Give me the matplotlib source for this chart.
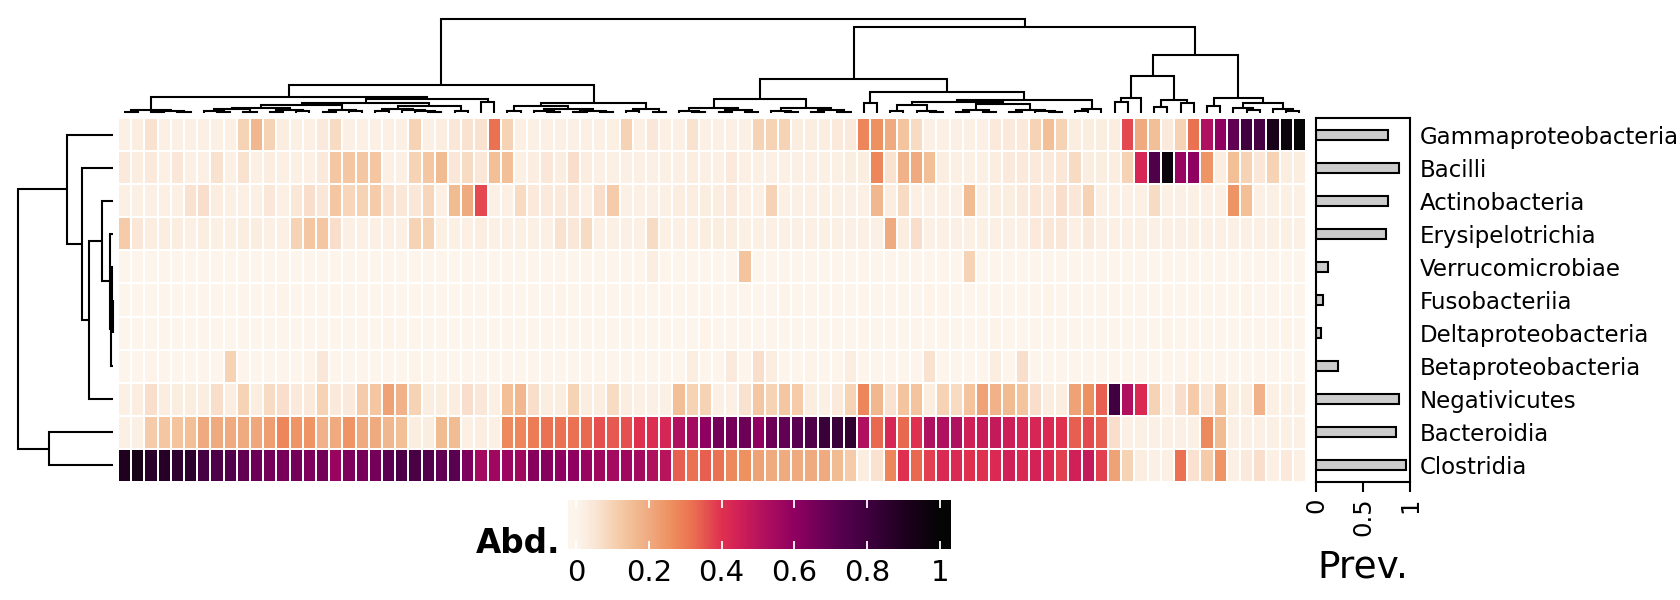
import numpy as np
import matplotlib
matplotlib.use("Agg")
import matplotlib.pyplot as plt
from matplotlib.colors import LinearSegmentedColormap

# ---------------- data ----------------
classes = ["Gammaproteobacteria", "Bacilli", "Actinobacteria", "Erysipelotrichia",
           "Verrucomicrobiae", "Fusobacteriia", "Deltaproteobacteria",
           "Betaproteobacteria", "Negativicutes", "Bacteroidia", "Clostridia"]

gammaproteobacteria = [
    0.02, 0.03, 0.06, 0.02, 0.02, 0.02, 0.02, 0.02, 0.02, 0.10,
    0.17, 0.10, 0.03, 0.02, 0.02, 0.04, 0.08, 0.02, 0.02, 0.02,
    0.02, 0.02, 0.10, 0.02, 0.03, 0.05, 0.06, 0.06, 0.32, 0.10,
    0.02, 0.02, 0.02, 0.02, 0.02, 0.02, 0.02, 0.02, 0.10, 0.02,
    0.05, 0.02, 0.02, 0.06, 0.02, 0.02, 0.02, 0.02, 0.10, 0.10,
    0.10, 0.03, 0.03, 0.03, 0.04, 0.04, 0.28, 0.26, 0.20, 0.14,
    0.08, 0.02, 0.02, 0.02, 0.02, 0.02, 0.04, 0.04, 0.04, 0.10,
    0.15, 0.10, 0.03, 0.03, 0.03, 0.03, 0.37, 0.20, 0.15, 0.04,
    0.10, 0.32, 0.52, 0.60, 0.70, 0.80, 0.78, 0.92, 0.97, 1.00]
bacilli = [
    0.04, 0.03, 0.04, 0.02, 0.05, 0.02, 0.02, 0.06, 0.02, 0.06,
    0.02, 0.03, 0.02, 0.02, 0.02, 0.04, 0.13, 0.13, 0.13, 0.13,
    0.02, 0.02, 0.10, 0.13, 0.16, 0.05, 0.08, 0.05, 0.15, 0.15,
    0.02, 0.03, 0.05, 0.03, 0.07, 0.03, 0.02, 0.02, 0.02, 0.02,
    0.02, 0.02, 0.02, 0.03, 0.02, 0.02, 0.04, 0.02, 0.02, 0.02,
    0.02, 0.02, 0.02, 0.02, 0.02, 0.03, 0.03, 0.28, 0.06, 0.18,
    0.20, 0.15, 0.03, 0.02, 0.02, 0.02, 0.03, 0.04, 0.04, 0.04,
    0.04, 0.05, 0.08, 0.03, 0.03, 0.03, 0.10, 0.43, 0.75, 0.97,
    0.58, 0.60, 0.25, 0.03, 0.15, 0.10, 0.05, 0.10, 0.03, 0.03]
actinobacteria = [
    0.02, 0.02, 0.02, 0.02, 0.02, 0.06, 0.07, 0.03, 0.02, 0.02,
    0.02, 0.05, 0.02, 0.05, 0.07, 0.05, 0.13, 0.09, 0.10, 0.12,
    0.06, 0.05, 0.05, 0.09, 0.02, 0.16, 0.20, 0.37, 0.02, 0.02,
    0.08, 0.04, 0.04, 0.04, 0.05, 0.02, 0.07, 0.12, 0.02, 0.02,
    0.02, 0.02, 0.03, 0.03, 0.03, 0.03, 0.04, 0.02, 0.02, 0.10,
    0.02, 0.02, 0.02, 0.02, 0.02, 0.02, 0.02, 0.17, 0.03, 0.08,
    0.02, 0.02, 0.02, 0.02, 0.16, 0.02, 0.03, 0.03, 0.04, 0.05,
    0.04, 0.07, 0.05, 0.10, 0.02, 0.02, 0.02, 0.02, 0.08, 0.02,
    0.02, 0.02, 0.02, 0.02, 0.25, 0.15, 0.02, 0.02, 0.02, 0.02]
erysipelotrichia = [
    0.12, 0.05, 0.03, 0.03, 0.03, 0.02, 0.03, 0.02, 0.02, 0.03,
    0.03, 0.02, 0.02, 0.10, 0.13, 0.13, 0.07, 0.02, 0.02, 0.02,
    0.02, 0.02, 0.10, 0.10, 0.02, 0.02, 0.02, 0.03, 0.02, 0.02,
    0.02, 0.02, 0.02, 0.06, 0.05, 0.08, 0.02, 0.02, 0.02, 0.02,
    0.08, 0.02, 0.02, 0.02, 0.03, 0.03, 0.03, 0.02, 0.02, 0.02,
    0.02, 0.02, 0.02, 0.02, 0.02, 0.02, 0.02, 0.02, 0.20, 0.03,
    0.07, 0.02, 0.02, 0.02, 0.02, 0.02, 0.02, 0.02, 0.02, 0.04,
    0.05, 0.05, 0.02, 0.04, 0.02, 0.02, 0.02, 0.02, 0.02, 0.02,
    0.02, 0.02, 0.02, 0.02, 0.02, 0.02, 0.02, 0.02, 0.02, 0.02]
verrucomicrobiae = [
    0.00, 0.00, 0.00, 0.00, 0.00, 0.00, 0.00, 0.00, 0.00, 0.00,
    0.00, 0.00, 0.00, 0.00, 0.00, 0.00, 0.00, 0.00, 0.00, 0.00,
    0.00, 0.00, 0.00, 0.00, 0.00, 0.00, 0.00, 0.00, 0.00, 0.00,
    0.00, 0.00, 0.00, 0.00, 0.00, 0.00, 0.00, 0.00, 0.00, 0.00,
    0.03, 0.00, 0.00, 0.00, 0.00, 0.00, 0.00, 0.14, 0.00, 0.00,
    0.00, 0.00, 0.00, 0.00, 0.00, 0.00, 0.00, 0.00, 0.00, 0.00,
    0.00, 0.00, 0.00, 0.00, 0.10, 0.00, 0.00, 0.00, 0.00, 0.00,
    0.00, 0.00, 0.00, 0.00, 0.00, 0.00, 0.00, 0.00, 0.00, 0.00,
    0.00, 0.00, 0.00, 0.00, 0.00, 0.00, 0.00, 0.00, 0.00, 0.00]
fusobacteriia = [
    0.00, 0.00, 0.00, 0.00, 0.00, 0.00, 0.00, 0.00, 0.00, 0.00,
    0.00, 0.00, 0.01, 0.00, 0.00, 0.00, 0.00, 0.00, 0.00, 0.00,
    0.00, 0.00, 0.00, 0.00, 0.00, 0.00, 0.00, 0.00, 0.00, 0.00,
    0.00, 0.00, 0.00, 0.01, 0.00, 0.00, 0.00, 0.00, 0.00, 0.00,
    0.00, 0.00, 0.00, 0.00, 0.00, 0.00, 0.00, 0.00, 0.00, 0.00,
    0.01, 0.00, 0.00, 0.00, 0.00, 0.00, 0.00, 0.00, 0.00, 0.00,
    0.00, 0.01, 0.00, 0.00, 0.00, 0.00, 0.00, 0.00, 0.00, 0.00,
    0.01, 0.00, 0.00, 0.00, 0.00, 0.00, 0.00, 0.00, 0.00, 0.00,
    0.00, 0.00, 0.00, 0.00, 0.00, 0.01, 0.00, 0.00, 0.00, 0.00]
deltaproteobacteria = [
    0.00, 0.00, 0.00, 0.00, 0.00, 0.00, 0.00, 0.00, 0.00, 0.00,
    0.00, 0.00, 0.00, 0.00, 0.00, 0.00, 0.00, 0.00, 0.00, 0.00,
    0.01, 0.00, 0.00, 0.00, 0.00, 0.00, 0.00, 0.00, 0.00, 0.00,
    0.00, 0.00, 0.00, 0.00, 0.00, 0.00, 0.00, 0.00, 0.00, 0.00,
    0.00, 0.00, 0.00, 0.00, 0.01, 0.00, 0.00, 0.00, 0.00, 0.00,
    0.00, 0.00, 0.00, 0.00, 0.00, 0.00, 0.00, 0.00, 0.00, 0.00,
    0.00, 0.00, 0.00, 0.00, 0.00, 0.00, 0.01, 0.00, 0.00, 0.00,
    0.00, 0.00, 0.00, 0.00, 0.00, 0.00, 0.00, 0.00, 0.00, 0.01,
    0.00, 0.00, 0.00, 0.00, 0.00, 0.00, 0.00, 0.00, 0.01, 0.00]
betaproteobacteria = [
    0.00, 0.00, 0.01, 0.00, 0.00, 0.00, 0.00, 0.00, 0.10, 0.00,
    0.00, 0.00, 0.00, 0.00, 0.01, 0.05, 0.00, 0.00, 0.00, 0.00,
    0.00, 0.00, 0.01, 0.00, 0.00, 0.00, 0.00, 0.00, 0.00, 0.00,
    0.00, 0.00, 0.00, 0.00, 0.00, 0.00, 0.00, 0.00, 0.00, 0.00,
    0.00, 0.00, 0.00, 0.03, 0.00, 0.00, 0.04, 0.00, 0.07, 0.03,
    0.00, 0.00, 0.01, 0.00, 0.00, 0.03, 0.00, 0.00, 0.00, 0.00,
    0.00, 0.06, 0.00, 0.00, 0.00, 0.00, 0.03, 0.00, 0.07, 0.00,
    0.00, 0.00, 0.00, 0.00, 0.00, 0.00, 0.00, 0.00, 0.00, 0.00,
    0.00, 0.01, 0.00, 0.00, 0.00, 0.00, 0.00, 0.00, 0.00, 0.00]
negativicutes = [
    0.02, 0.03, 0.07, 0.03, 0.03, 0.03, 0.03, 0.07, 0.03, 0.10,
    0.03, 0.08, 0.07, 0.04, 0.04, 0.10, 0.04, 0.04, 0.12, 0.13,
    0.22, 0.18, 0.10, 0.03, 0.03, 0.03, 0.07, 0.05, 0.02, 0.15,
    0.17, 0.07, 0.03, 0.03, 0.10, 0.03, 0.03, 0.08, 0.03, 0.02,
    0.02, 0.02, 0.15, 0.10, 0.10, 0.02, 0.02, 0.06, 0.13, 0.10,
    0.13, 0.12, 0.03, 0.02, 0.04, 0.10, 0.28, 0.17, 0.06, 0.14,
    0.14, 0.03, 0.10, 0.08, 0.14, 0.22, 0.18, 0.16, 0.14, 0.07,
    0.03, 0.03, 0.22, 0.26, 0.34, 0.80, 0.52, 0.42, 0.10, 0.02,
    0.07, 0.12, 0.05, 0.13, 0.03, 0.03, 0.18, 0.02, 0.02, 0.02]
bacteroidia = [
    0.02, 0.02, 0.12, 0.13, 0.14, 0.15, 0.20, 0.20, 0.20, 0.20,
    0.21, 0.23, 0.28, 0.25, 0.25, 0.18, 0.20, 0.25, 0.20, 0.20,
    0.17, 0.15, 0.03, 0.03, 0.16, 0.16, 0.02, 0.03, 0.02, 0.27,
    0.28, 0.30, 0.32, 0.32, 0.32, 0.33, 0.36, 0.35, 0.36, 0.40,
    0.41, 0.43, 0.52, 0.55, 0.60, 0.66, 0.66, 0.68, 0.60, 0.68,
    0.70, 0.72, 0.75, 0.82, 0.82, 0.85, 0.52, 0.33, 0.43, 0.33,
    0.40, 0.52, 0.52, 0.52, 0.45, 0.47, 0.48, 0.46, 0.43, 0.43,
    0.42, 0.40, 0.34, 0.37, 0.34, 0.07, 0.02, 0.02, 0.02, 0.02,
    0.02, 0.02, 0.27, 0.16, 0.02, 0.02, 0.02, 0.02, 0.02, 0.02]
clostridia = [
    0.90, 0.93, 0.87, 0.88, 0.85, 0.86, 0.78, 0.76, 0.74, 0.70,
    0.68, 0.66, 0.65, 0.66, 0.64, 0.66, 0.58, 0.64, 0.65, 0.66,
    0.72, 0.76, 0.77, 0.74, 0.70, 0.72, 0.64, 0.55, 0.56, 0.57,
    0.56, 0.62, 0.62, 0.60, 0.60, 0.58, 0.56, 0.55, 0.56, 0.55,
    0.52, 0.50, 0.34, 0.32, 0.34, 0.32, 0.27, 0.26, 0.22, 0.20,
    0.20, 0.20, 0.20, 0.20, 0.16, 0.12, 0.03, 0.06, 0.28, 0.40,
    0.33, 0.38, 0.42, 0.42, 0.40, 0.40, 0.42, 0.45, 0.42, 0.44,
    0.42, 0.38, 0.45, 0.48, 0.38, 0.22, 0.10, 0.03, 0.02, 0.02,
    0.32, 0.06, 0.12, 0.25, 0.02, 0.04, 0.07, 0.02, 0.04, 0.02]

prevalence = [0.77, 0.88, 0.77, 0.74, 0.127, 0.07, 0.057, 0.237, 0.88, 0.85, 0.96]

# dendrograms: [left, right, merge height]; leaves are column / row indices
L1a = [[0, 1, 1.5], [[2, 3, 1.0], [4, 5, 1.5], 2.0], 3.0]
L1b1a = [[[[6, [7, 8, 1.0], 2.0], [9, 10, 1.5], 4.0], [[11, 12, 1.0], [13, 14, 2.0], 3.0], 5.5],
         [[15, 16, 1.5], [17, 18, 2.0], 3.5], 8.0]
L1b1b = [[[19, 20, 2.0], [21, [22, [23, 24, 1.0], 2.0], 3.0], 4.5], [25, 26, 2.0], 7.0]
L1b = [[L1b1a, L1b1b, 10.3], [27, 28, 11.3], 14.0]
L2a = [[29, 30, 2.0], [[31, [32, 33, 1.0], 2.0], [[34, 35, 1.5], [36, 37, 1.0], 2.5], 4.5], 7.0]
L2b = [[38, 39, 2.0], [40, 41, 1.5], 4.0]
left_cluster = [[L1a, L1b, 16.3], [L2a, L2b, 9.7], 28.0]
R1a = [[[42, [43, 44, 1.0], 2.5], [[45, 46, 1.5], [47, 48, 1.0], 3.0], 5.0],
       [[49, [50, 51, 1.0], 2.0], [[52, 53, 1.5], [54, 55, 1.0], 3.0], 5.5], 13.7]
R1b2a = [[[58, 59, 2.0], [60, [61, 62, 1.0], 2.0], 8.0],
         [[[63, 64, 1.0], [65, 66, 1.5], 3.0], [[67, 68, 1.0], [69, [70, 71, 1.0], 2.0], 3.0], 9.5],
         11.5]
R1b = [[56, 57, 9.7], [R1b2a, [[72, 73, 2.0], 74, 4.0], 13.0], 21.3]
R2a = [[[75, 76, 11.3], 77, 14.7], [[78, 79, 5.7], [80, 81, 9.7], 13.0], 37.3]
R2b = [[82, 83, 7.0], [[84, [85, 86, 3.0], 5.0], [87, [88, 89, 2.0], 4.0], 9.7], 15.3]
right_cluster = [[R1a, R1b, 34.0], [R2a, R2b, 58.0], 86.3]
col_tree = [left_cluster, right_cluster, 94.0]

row_tree = [[0, [1, [[2, [3, [[4, [5, 6, 0.5], 1.0], 7, 1.8], 3.0], 11.0], 8, 24.0], 31.0], 46.0],
            [9, 10, 64.0], 95.0]

cbar_ticks = [0, 0.2, 0.4, 0.6, 0.8, 1]
cbar_ticklabels = ["0", "0.2", "0.4", "0.6", "0.8", "1"]
prev_ticks = [0, 0.5, 1]
prev_ticklabels = ["0", "0.5", "1"]

cmap_positions = [0.00, 0.05, 0.10, 0.15, 0.20, 0.26, 0.32, 0.36, 0.40, 0.45,
                  0.52, 0.60, 0.67, 0.72, 0.80, 0.90, 1.00]
cmap_colors = ["#FDF5EC", "#FAE6D6", "#F6D2B4", "#F2BF96", "#F0AA80", "#EE9060",
               "#EA7050", "#E55050", "#E03050", "#D02058", "#B0105F", "#900060",
               "#700058", "#5A0050", "#400040", "#200020", "#050505"]

# ---------------- figure ----------------
W, H = 1680, 600
fig = plt.figure(figsize=(W / 100, H / 100), dpi=100)


def rect(x0, y0, x1, y1):
    return [x0 / W, 1 - y1 / H, (x1 - x0) / W, (y1 - y0) / H]


cmap = LinearSegmentedColormap.from_list("abd", list(zip(cmap_positions, cmap_colors)))
data = np.array([gammaproteobacteria, bacilli, actinobacteria, erysipelotrichia,
                 verrucomicrobiae, fusobacteriia, deltaproteobacteria,
                 betaproteobacteria, negativicutes, bacteroidia, clostridia])
nrow, ncol = data.shape

# heatmap
ax_h = fig.add_axes(rect(118, 118, 1306, 482))
ax_h.pcolormesh(np.arange(ncol + 1) - 0.5, np.arange(nrow + 1) - 0.5, data,
                cmap=cmap, vmin=0, vmax=1, edgecolors="white", linewidth=1.1)
ax_h.set_xlim(-0.5, ncol - 0.5)
ax_h.set_ylim(nrow - 0.5, -0.5)
ax_h.axis("off")

LW = 1.5


def draw_tree(ax, node, orient):
    if isinstance(node, int):
        return float(node), 0.0
    left, right, h = node
    pl, hl = draw_tree(ax, left, orient)
    pr, hr = draw_tree(ax, right, orient)
    pos = [pl, pl, pr, pr]
    hts = [hl, h, h, hr]
    if orient == "top":
        ax.plot(pos, hts, color="black", lw=LW, solid_capstyle="butt",
                solid_joinstyle="miter", clip_on=False)
    else:
        ax.plot(hts, pos, color="black", lw=LW, solid_capstyle="butt",
                solid_joinstyle="miter", clip_on=False)
    return (pl + pr) / 2, h


# column dendrogram
ax_cd = fig.add_axes(rect(118, 19, 1306, 113))
draw_tree(ax_cd, col_tree, "top")
ax_cd.set_xlim(-0.5, ncol - 0.5)
ax_cd.set_ylim(0, col_tree[2])
ax_cd.axis("off")

# row dendrogram
ax_rd = fig.add_axes(rect(18, 118, 113, 482))
draw_tree(ax_rd, row_tree, "left")
ax_rd.set_xlim(row_tree[2], 0)
ax_rd.set_ylim(nrow - 0.5, -0.5)
ax_rd.axis("off")

# prevalence bars
ax_p = fig.add_axes(rect(1316, 118, 1410, 482))
ax_p.barh(np.arange(nrow), prevalence, height=0.3, color="#CCCCCC",
          edgecolor="black", linewidth=1.5)
ax_p.set_xlim(0, 1)
ax_p.set_ylim(nrow - 0.5, -0.5)
for s in ax_p.spines.values():
    s.set_linewidth(1.5)
ax_p.set_xticks(prev_ticks)
ax_p.set_xticklabels(prev_ticklabels, rotation=90, fontsize=17.5)
ax_p.tick_params(axis="x", length=7, width=1.5, pad=4)
ax_p.yaxis.tick_right()
ax_p.set_yticks(np.arange(nrow))
ax_p.set_yticklabels(classes, fontsize=16.5)
ax_p.tick_params(axis="y", length=0, pad=7)
fig.text(1317 / W, 1 - 577 / H, "Prev.", fontsize=27, ha="left", va="baseline")

# colour legend
ax_c = fig.add_axes(rect(568, 500, 951, 549))
lo, hi = -0.022, 1.03
grad = np.linspace(lo, hi, 600)[None, :]
ax_c.imshow(grad, extent=[lo, hi, 0, 1], aspect="auto", cmap=cmap, vmin=0, vmax=1,
            interpolation="bilinear")
ax_c.set_xlim(lo, hi)
ax_c.set_ylim(0, 1)
ax_c.set_yticks([])
ax_c.set_xticks(cbar_ticks)
ax_c.set_xticklabels(cbar_ticklabels, fontsize=21)
ax_c.tick_params(axis="x", direction="in", length=6, width=1.3, color="white",
                 top=True, bottom=True, pad=7)
for s in ax_c.spines.values():
    s.set_visible(False)
fig.text(560 / W, 1 - 553 / H, "Abd.", fontsize=23.5, fontweight="bold",
         ha="right", va="baseline")

fig.savefig("out.png", dpi=100)
